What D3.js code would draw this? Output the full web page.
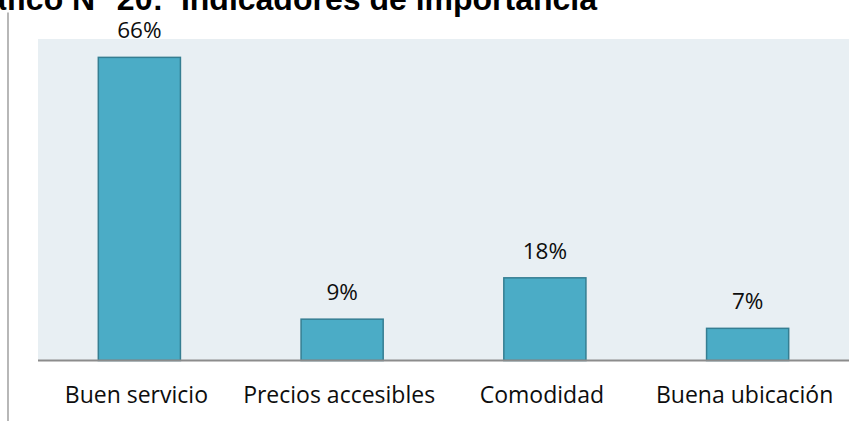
<!DOCTYPE html>
<html>
<head>
<meta charset="utf-8">
<script src="https://cdn.jsdelivr.net/npm/d3@7"></script>
<style>
  html, body { margin: 0; padding: 0; background: #ffffff; }
  svg { display: block; }
</style>
</head>
<body>
<svg id="chart" width="864" height="421"></svg>
<script>
// Indicadores de importancia (porcentaje de respuestas)
const categories = ["Buen servicio", "Precios accesibles", "Comodidad", "Buena ubicación"];
const values = [66, 9, 18, 7];
const titleText = "Gráfico N° 20:  Indicadores de importancia";

const svg = d3.select("#chart");

const plot = { left: 38, right: 849, top: 39, bottom: 360.5 };

const x = d3.scaleBand()
  .domain(categories)
  .range([plot.left, plot.right])
  .paddingInner(0.595)
  .paddingOuter(0.2975);

const y = d3.scaleLinear()
  .domain([0, 70])
  .range([plot.bottom, plot.top]);

// Title
svg.append("text")
  .attr("x", 597)
  .attr("y", 9.5)
  .attr("text-anchor", "end")
  .attr("font-family", "Liberation Sans, Arial, sans-serif")
  .attr("font-weight", "bold")
  .attr("font-size", 32)
  .attr("fill", "#000")
  .attr("xml:space", "preserve")
  .text(titleText);

// Left frame line
svg.append("line")
  .attr("x1", 8).attr("x2", 8)
  .attr("y1", 12.5).attr("y2", 421)
  .attr("stroke", "#a6a6a6")
  .attr("stroke-width", 1.6);

// Plot background
svg.append("rect")
  .attr("x", plot.left)
  .attr("y", plot.top)
  .attr("width", plot.right - plot.left)
  .attr("height", plot.bottom - plot.top)
  .attr("fill", "#e8eff3");

// Bars
svg.append("g").selectAll("rect")
  .data(values)
  .join("rect")
  .attr("x", (d, i) => x(categories[i]))
  .attr("y", d => y(d))
  .attr("width", x.bandwidth())
  .attr("height", d => y(0) - y(d))
  .attr("fill", "#4bacc6")
  .attr("stroke", "#357e92")
  .attr("stroke-width", 1.5);

// Category axis
const xAxis = svg.append("g")
  .attr("transform", `translate(0,${plot.bottom})`)
  .call(d3.axisBottom(x).tickSize(0).tickPadding(0));
xAxis.select(".domain")
  .attr("d", `M${plot.left},0H${plot.right}`)
  .attr("stroke", "#8c8c8c")
  .attr("stroke-width", 2);
xAxis.selectAll(".tick text")
  .attr("dy", null)
  .attr("y", 42.5)
  .attr("dx", -3)
  .attr("font-family", "Open Sans, sans-serif")
  .attr("font-size", 23)
  .attr("fill", "#0d0d0d");

// Value labels
svg.append("g").selectAll("text")
  .data(values)
  .join("text")
  .attr("x", (d, i) => x(categories[i]) + x.bandwidth() / 2)
  .attr("y", d => y(d) - 19)
  .attr("text-anchor", "middle")
  .attr("font-family", "Open Sans, sans-serif")
  .attr("font-size", 22.5)
  .attr("fill", "#0d0d0d")
  .text(d => d + "%");
</script>
</body>
</html>
